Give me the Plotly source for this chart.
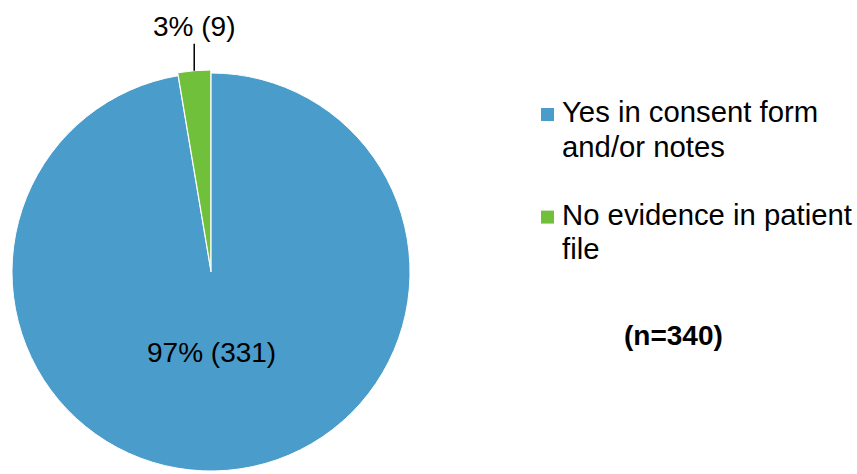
import math
import plotly.graph_objects as go

# Data
labels = ["Yes in consent form and/or notes", "No evidence in patient file"]
values = [331, 9]
colors = ["#4A9CCA", "#71C03C"]
legend_lines = [["Yes in consent form", "and/or notes"], ["No evidence in patient", "file"]]
sample_note = "(n=340)"

W, H = 857, 474
FONT = "Liberation Sans, Arial, sans-serif"
total = sum(values)

# Pie geometry (pixels)
pull = [0, 0.015]
cx_px, outer_px = 211, 202           # centre x, radius incl. pull
dom_x = [(cx_px - outer_px) / W, (cx_px + outer_px) / W]
dom_y = [0, 2 * outer_px / H]
cy_px_from_bottom = outer_px

def pct_text(v):
    return f"{round(v / total * 100)}% ({v})"

fig = go.Figure(go.Pie(
    labels=labels,
    values=values,
    marker=dict(colors=colors, line=dict(color="white", width=1)),
    sort=False,
    direction="clockwise",
    rotation=0,
    pull=pull,
    textinfo="none",
    domain=dict(x=dom_x, y=dom_y),
    showlegend=False,
    hoverinfo="label+value+percent",
))

annotations = []
shapes = []

# Label for the large slice, placed below the pie centre
annotations.append(dict(
    x=cx_px / W, y=(cy_px_from_bottom - 80) / H, xref="paper", yref="paper",
    xanchor="center", yanchor="middle", showarrow=False,
    text=pct_text(values[0]), font=dict(family=FONT, size=28, color="black"),
))

# Outside label for the small slice with a leader line
start = sum(values[:1])
mid_frac = (start + values[1] / 2) / total
theta = 2 * math.pi * mid_frac
tip_x = cx_px + outer_px * math.sin(theta)
tip_y = cy_px_from_bottom + outer_px * math.cos(theta)
annotations.append(dict(
    x=tip_x / W, y=tip_y / H, xref="paper", yref="paper",
    text=pct_text(values[1]), showarrow=True, arrowhead=0,
    arrowwidth=1.5, arrowcolor="black", ax=0, ay=-44,
    font=dict(family=FONT, size=28, color="black"),
))

# Legend drawn as coloured squares + text lines
text_x = 560
sq_x0, sq_size = 541, 13
item_top_baselines = [121.7, 224.3]
line_gap = 34.3
for lines, color, base in zip(legend_lines, colors, item_top_baselines):
    sq_top = base - 13.7
    shapes.append(dict(
        type="rect", xref="paper", yref="paper",
        x0=sq_x0 / W, x1=(sq_x0 + sq_size) / W,
        y0=1 - (sq_top + sq_size) / H, y1=1 - sq_top / H,
        fillcolor=color, line=dict(width=0),
    ))
    for i, line in enumerate(lines):
        mid = base + i * line_gap - 10
        annotations.append(dict(
            x=text_x / W, y=1 - mid / H, xref="paper", yref="paper",
            xanchor="left", yanchor="middle", showarrow=False,
            text=line, font=dict(family=FONT, size=29.3, color="black"),
        ))

annotations.append(dict(
    x=673 / W, y=1 - (345 - 9.7) / H, xref="paper", yref="paper",
    xanchor="center", yanchor="middle", showarrow=False,
    text=f"<b>{sample_note}</b>", font=dict(family=FONT, size=28, color="black"),
))

fig.update_layout(
    width=W, height=H,
    margin=dict(l=0, r=0, t=0, b=0),
    paper_bgcolor="white", plot_bgcolor="white",
    annotations=annotations, shapes=shapes,
)

fig.write_html("out.html")
